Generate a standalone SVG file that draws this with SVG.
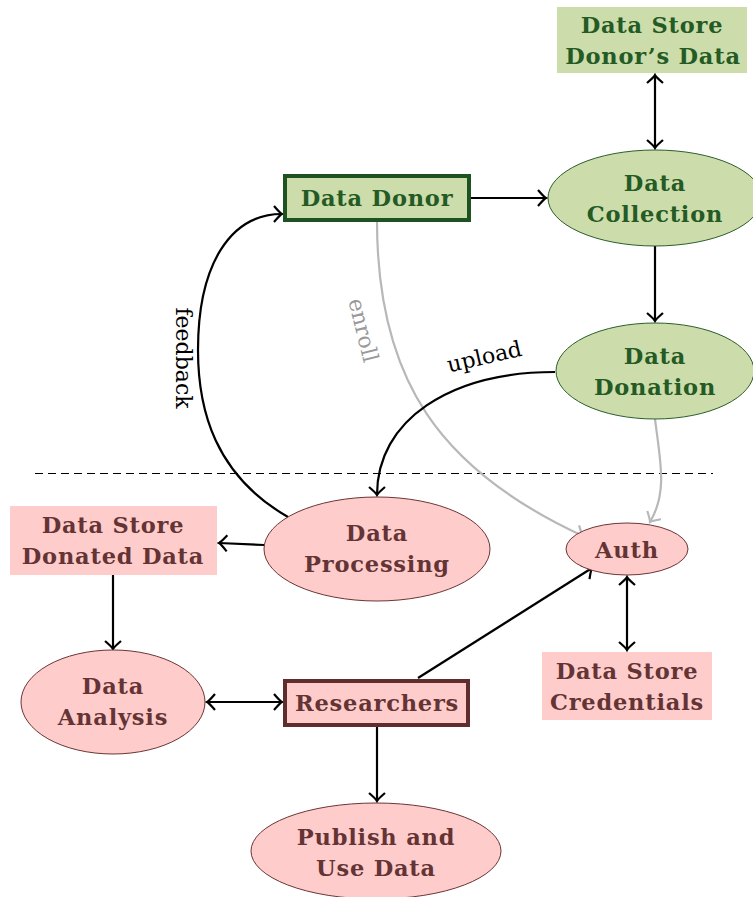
<svg xmlns="http://www.w3.org/2000/svg" width="753" height="897" viewBox="0 0 753 897">
<defs>
<style>
.gf{fill:#cddcab}
.pf{fill:#ffcccc}
.ge{fill:#cddcab;stroke:#2a5e2a;stroke-width:1}
.pe{fill:#ffcccc;stroke:#6b3535;stroke-width:1}
.gt{font-family:"DejaVu Serif","Liberation Serif",serif;font-weight:bold;font-size:22.5px;letter-spacing:0.8px;fill:#245a24;text-anchor:middle}
.pt{font-family:"DejaVu Serif","Liberation Serif",serif;font-weight:bold;font-size:22.5px;letter-spacing:0.8px;fill:#643434;text-anchor:middle}
.lbl{font-family:"DejaVu Serif","Liberation Serif",serif;font-size:22px;text-anchor:middle}
.c{fill:none;stroke:#000;stroke-width:2.2}
.g{fill:none;stroke:#b8b8b8;stroke-width:2.2}
</style>
<marker id="a" viewBox="-10 -9 12 18" markerWidth="12" markerHeight="18" refX="0" refY="0" orient="auto-start-reverse" markerUnits="userSpaceOnUse">
<path d="M-8,-8 Q-2,-1 0,0 Q-2,1 -8,8" fill="none" stroke="#000" stroke-width="2.2"/>
</marker>
<marker id="ag" viewBox="-10 -9 12 18" markerWidth="12" markerHeight="18" refX="0" refY="0" orient="auto" markerUnits="userSpaceOnUse">
<path d="M-8,-8 Q-2,-1 0,0 Q-2,1 -8,8" fill="none" stroke="#b8b8b8" stroke-width="2.2"/>
</marker>
</defs>
<rect width="753" height="897" fill="#fff"/>
<g id="connectors">
<line x1="35" y1="473.5" x2="713" y2="473.5" stroke="#000" stroke-width="1" stroke-dasharray="8,5"/>
<line class="c" x1="655" y1="75" x2="655" y2="148" marker-start="url(#a)" marker-end="url(#a)"/>
<line class="c" x1="470" y1="198" x2="546" y2="198" marker-end="url(#a)"/>
<line class="c" x1="655" y1="246" x2="655" y2="321" marker-end="url(#a)"/>
<path class="g" d="M377,221 C377,380 440,470 583,536" marker-end="url(#ag)"/>
<path class="g" d="M655,419 C660,460 668,492 650,522" marker-end="url(#ag)"/>
<path class="c" d="M555,372 C450,372 377,420 377,495" marker-end="url(#a)"/>
<path class="c" d="M288,517 C215,475 198,410 198,350 C198,265 230,214 282,214" marker-end="url(#a)"/>
<line class="c" x1="264" y1="545" x2="219" y2="543" marker-end="url(#a)"/>
<line class="c" x1="113" y1="575" x2="113" y2="649" marker-end="url(#a)"/>
<line class="c" x1="207" y1="702" x2="282" y2="702" marker-start="url(#a)" marker-end="url(#a)"/>
<line class="c" x1="377" y1="726" x2="377" y2="801" marker-end="url(#a)"/>
<line class="c" x1="418" y1="678" x2="592" y2="568" marker-end="url(#a)"/>
<line class="c" x1="627" y1="577" x2="627" y2="650" marker-start="url(#a)" marker-end="url(#a)"/>
<text class="lbl" transform="translate(176,358) rotate(90)" fill="#000">feedback</text>
<text class="lbl" transform="translate(486,364) rotate(-13)" fill="#000">upload</text>
<text class="lbl" transform="translate(356,332) rotate(76)" fill="#999">enroll</text>
</g>
<g id="store-donor">
<rect class="gf" x="557" y="7" width="190" height="66"/>
<text class="gt" x="652" y="33">Data Store</text>
<text class="gt" x="653" y="64">Donor’s Data</text>
</g>
<g id="data-donor">
<rect x="285" y="176" width="184" height="44" fill="#cddcab" stroke="#1f5221" stroke-width="4"/>
<text class="gt" x="377" y="206">Data Donor</text>
</g>
<g id="data-collection">
<ellipse class="ge" cx="655" cy="198" rx="107" ry="48"/>
<text class="gt" x="655" y="191">Data</text>
<text class="gt" x="655" y="222">Collection</text>
</g>
<g id="data-donation">
<ellipse class="ge" cx="655" cy="371" rx="99" ry="48"/>
<text class="gt" x="655" y="364">Data</text>
<text class="gt" x="655" y="395">Donation</text>
</g>
<g id="data-processing">
<ellipse class="pe" cx="377" cy="549" rx="113" ry="52"/>
<text class="pt" x="377" y="541">Data</text>
<text class="pt" x="377" y="572">Processing</text>
</g>
<g id="store-donated">
<rect class="pf" x="10" y="506" width="207" height="69"/>
<text class="pt" x="113" y="533">Data Store</text>
<text class="pt" x="113" y="564">Donated Data</text>
</g>
<g id="auth">
<ellipse class="pe" cx="627" cy="549" rx="61" ry="26"/>
<text class="pt" x="627" y="558">Auth</text>
</g>
<g id="store-credentials">
<rect class="pf" x="542" y="652" width="170" height="68"/>
<text class="pt" x="627" y="679">Data Store</text>
<text class="pt" x="627" y="710">Credentials</text>
</g>
<g id="data-analysis">
<ellipse class="pe" cx="113" cy="702" rx="92" ry="52"/>
<text class="pt" x="113" y="694">Data</text>
<text class="pt" x="113" y="725">Analysis</text>
</g>
<g id="researchers">
<rect x="285" y="681" width="183" height="44" fill="#ffcccc" stroke="#5e2e2e" stroke-width="4"/>
<text class="pt" x="377" y="711">Researchers</text>
</g>
<g id="publish">
<ellipse class="pe" cx="376" cy="851" rx="125" ry="48"/>
<text class="pt" x="376" y="845">Publish and</text>
<text class="pt" x="376" y="876">Use Data</text>
</g>
</svg>
